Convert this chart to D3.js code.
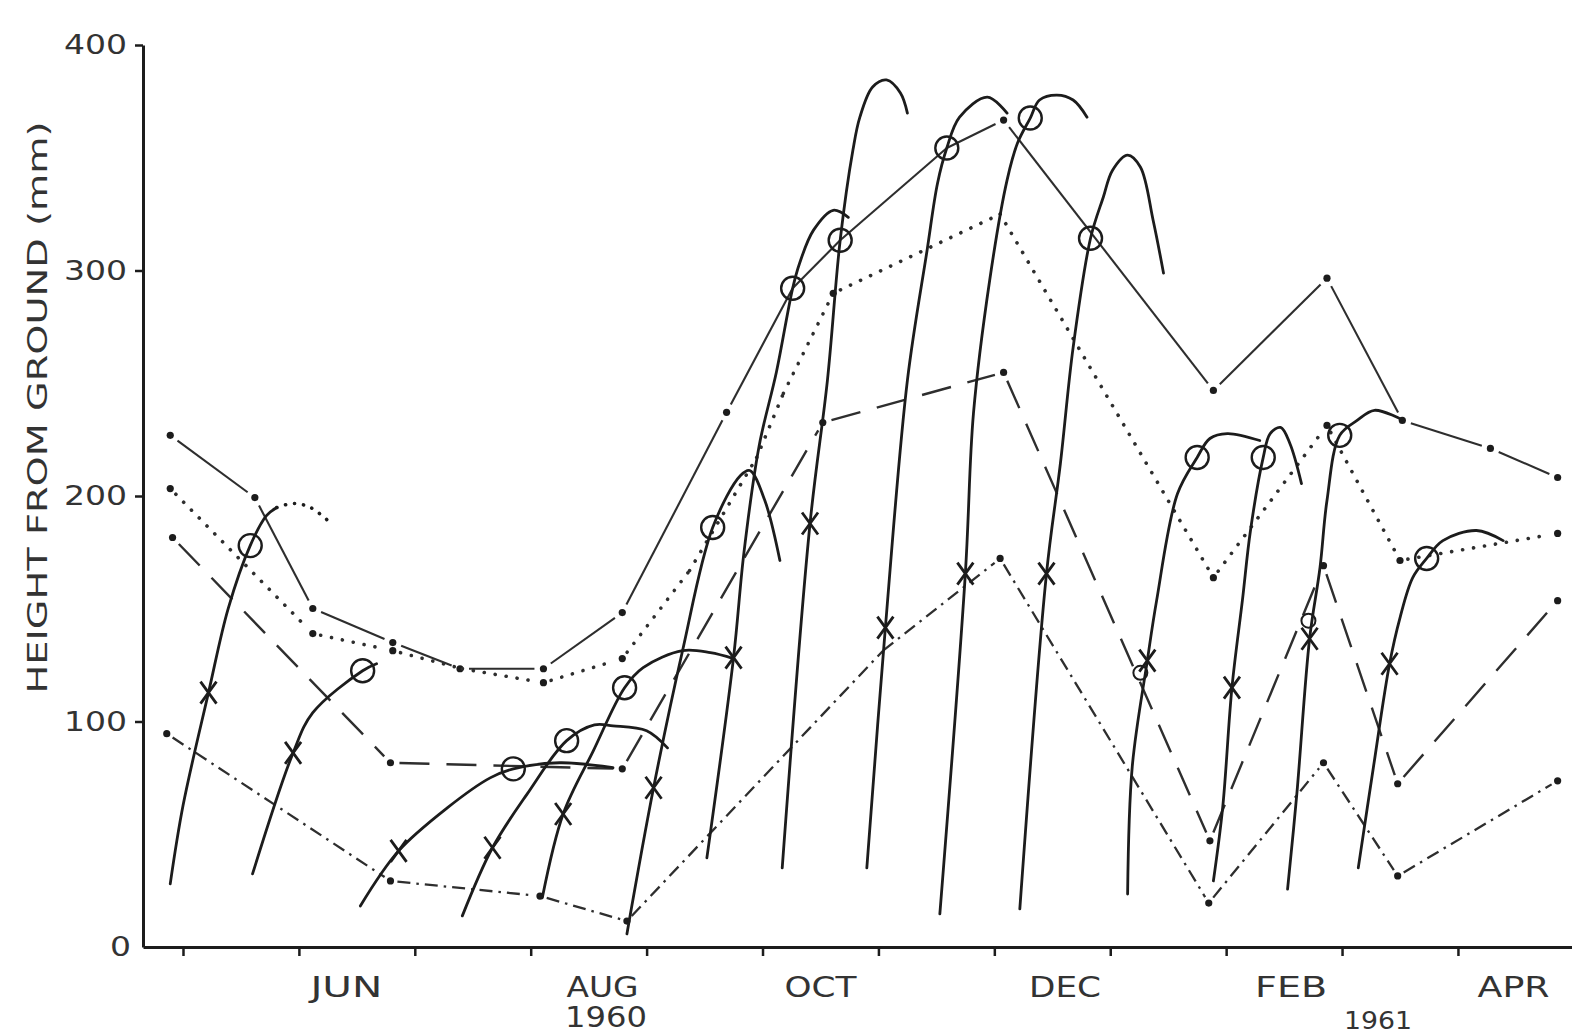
<!DOCTYPE html>
<html><head><meta charset="utf-8">
<script src="https://cdn.jsdelivr.net/npm/d3@7"></script>
<style>body{margin:0;background:#fff}svg{display:block}</style>
</head><body>
<svg id="c" width="1572" height="1034"></svg>
<script>
// ---------- DATA (x = month number counted from Jan 1960 = 1; value = height in mm) ----------
const yTicks = [0, 100, 200, 300, 400];
const monthTicks = [5, 6, 7, 8, 9, 10, 11, 12, 13, 14, 15, 16];
const monthLabels = ['JUN', 'AUG', 'OCT', 'DEC', 'FEB', 'APR'];
const monthLabelPos = [6.41, 8.62, 10.5, 12.61, 14.56, 16.48];
const yearLabels = ['1960', '1961'];
const yearLabelPos = [8.65, 15.31];
const yTitle = 'HEIGHT FROM GROUND (mm)';

// [month, mm, hasDot]
const seriesDashDot = [[4.89,226.9,1],[5.62,199.3,1],[6.12,150.1,1],[6.81,135,1],[7.39,123.4,1],[8.11,123.4,1],[8.79,148.3,1],[9.69,237.1,1],[10.26,292.1,0],[10.67,313.4,0],[11.59,354.3,0],[12.08,366.7,1],[13.89,246.8,1],[14.87,296.6,1],[15.52,233.5,1],[16.28,221.1,1],[16.86,208.2,1]];
const seriesDotted = [[4.89,203.3,1],[6.12,139,1],[6.81,131.4,1],[7.41,123.4,0],[8.11,117.2,1],[8.79,127.9,1],[9.37,166.9,0],[9.95,217.1,0],[10.18,245.5,0],[10.61,289.9,1],[12.05,325,0],[13.89,163.8,1],[14.87,231.3,1],[15.50,171.4,1],[16.86,183.4,1]];
const seriesLongDash = [[4.91,181.6,1],[6.79,81.7,1],[8.79,79,1],[10.52,232.6,1],[12.08,254.8,1],[13.86,47.1,1],[14.84,169.1,1],[15.48,72.4,1],[16.86,153.6,1]];
const seriesShortDash = [[4.86,94.6,1],[6.79,29.3,1],[8.08,22.6,1],[8.83,11.5,1],[11.04,131.4,0],[12.05,172.3,1],[13.85,19.5,1],[14.84,81.7,1],[15.48,31.5,1],[16.86,73.7,1]];

// individual growth curves [month, mm]
const growthCurves = [
 [[4.89,28],[5.00,62.6],[5.22,112.8],[5.39,150.1],[5.58,178],[5.72,191.3],[5.81,194.9]],
 [[5.60,32.4],[5.95,86.1],[6.12,103.9],[6.55,122.5],[6.67,125.6]],
 [[6.53,18.2],[6.86,42.6],[7.28,61.7],[7.65,75],[7.85,79],[8.25,81.7],[8.71,79.5]],
 [[7.41,13.8],[7.67,44],[7.97,67.9],[8.31,91.5],[8.55,98.5],[8.71,98.1],[9.00,95.9],[9.18,88.3]],
 [[8.10,21.8],[8.28,59],[8.54,87],[8.81,115],[8.97,123.9],[9.31,131.4],[9.55,130.5],[9.75,127.9]],
 [[8.83,5.8],[9.06,70.6],[9.31,131.4],[9.57,186],[9.81,209.1],[9.89,211.3],[10.02,198],[10.15,171.4]],
 [[9.52,39.5],[9.75,128.3],[9.84,175],[9.97,222],[10.12,255],[10.26,292.1],[10.32,303.2],[10.44,317.9],[10.61,326.7],[10.74,323.6]],
 [[10.17,35.1],[10.41,187.8],[10.56,251.3],[10.67,313.4],[10.78,353.4],[10.84,368],[10.95,381.4],[11.07,384.5],[11.19,378.7],[11.25,369.8]],
 [[10.90,35.1],[11.06,141.6],[11.25,251.3],[11.42,309],[11.51,338.7],[11.59,354.3],[11.70,368],[11.94,376.9],[12.11,369.8]],
 [[11.53,14.7],[11.75,165.6],[11.82,236.6],[11.96,295.7],[12.11,340.1],[12.20,356.5],[12.31,367.6],[12.39,375.6],[12.54,377.8],[12.68,375.6],[12.80,368]],
 [[12.22,16.9],[12.45,165.6],[12.57,214.4],[12.68,265.9],[12.83,314.3],[12.94,332.5],[13.02,344.5],[13.15,351.2],[13.26,345.9],[13.37,322.3],[13.46,298.8]],
 [[13.15,23.5],[13.19,80],[13.32,127],[13.40,153.6],[13.58,201],[13.75,217.1],[13.86,225.5],[14.01,227.7],[14.29,224.6]],
 [[13.89,29.3],[13.97,61.7],[14.05,115],[14.14,153.6],[14.21,184.7],[14.32,217.1],[14.38,227.7],[14.47,230.4],[14.55,223.3],[14.65,205.5]],
 [[14.53,25.7],[14.61,67.9],[14.72,136.7],[14.81,168.3],[14.87,198],[14.98,226.9],[15.13,233.5],[15.28,238],[15.53,233.5]],
 [[15.14,35.1],[15.27,79.5],[15.41,125.6],[15.50,146],[15.61,163.8],[15.73,172.3],[15.87,180.2],[16.16,184.7],[16.39,180.2]]
];
const growthTails = [[[5.81,194.9],[5.95,196.7],[6.10,194.9],[6.27,188.2]]];
const circleMarks = [[5.58,178],[6.55,122.5],[7.85,79],[8.31,91.5],[8.81,115],[9.57,186],[10.26,292.1],[10.67,313.4],[11.59,354.3],[12.31,367.6],[12.83,314.3],[13.75,217.1],[14.32,217.1],[14.98,226.9],[15.73,172.3]];
const smallCircleMarks = [[13.26,121.6],[14.71,144.7]];
const crossMarks = [[5.22,112.8],[5.95,86.1],[6.86,42.6],[7.67,44],[8.28,59],[9.06,70.6],[9.75,128.3],[10.41,187.8],[11.06,141.6],[11.75,165.6],[12.45,165.6],[13.32,127],[14.05,115],[14.72,136.7],[15.41,125.6]];

// ---------- DRAWING ----------
const ink = '#1c1c1c', soft = '#2e2e2e';
const svg = d3.select('#c');
svg.append('rect').attr('width',1572).attr('height',1034).attr('fill','#fff');
const x = d3.scaleLinear().domain([4.655, 16.984]).range([143, 1572]);
const y = d3.scaleLinear().domain([0, 400]).range([947, 45]);
const font = "'DejaVu Sans', 'Liberation Sans', sans-serif";

// axes
const gx = svg.append('g').attr('transform', `translate(0,${y(0)})`)
  .call(d3.axisBottom(x).tickValues(monthTicks).tickSize(9).tickSizeOuter(0).tickFormat(''));
gx.select('.domain').attr('stroke', ink).attr('stroke-width', 3);
gx.selectAll('.tick line').attr('stroke', ink).attr('stroke-width', 2.5);

const gy = svg.append('g').attr('transform', `translate(${x.range()[0]},0)`)
  .call(d3.axisLeft(y).tickValues(yTicks).tickSize(8).tickSizeOuter(0).tickPadding(7).tickFormat(d3.format('d')));
gy.select('.domain').attr('stroke', ink).attr('stroke-width', 3);
gy.selectAll('.tick line').attr('stroke', ink).attr('stroke-width', 2.5).filter(d => d === 0).remove();
gy.selectAll('.tick text')
  .attr('font-family', font).attr('font-size', 27).attr('fill', '#333')
  .attr('lengthAdjust', 'spacingAndGlyphs')
  .attr('textLength', d => String(d).length * 21)
  .attr('x', d => d === 0 ? -12 : -16);

// month and year labels
svg.append('g').selectAll('text').data(monthLabels).join('text')
  .attr('x', (d, i) => x(monthLabelPos[i])).attr('y', 997)
  .attr('text-anchor', 'middle').attr('font-family', font).attr('font-size', 28).attr('fill', '#333')
  .attr('lengthAdjust', 'spacingAndGlyphs').attr('textLength', 72).text(d => d);
svg.append('g').selectAll('text').data(yearLabels).join('text')
  .attr('x', (d, i) => x(yearLabelPos[i]))
  .attr('y', (d, i) => i === 0 ? 1027 : 1029)
  .attr('text-anchor', 'middle').attr('font-family', font).attr('font-size', (d, i) => i === 0 ? 28 : 25).attr('fill', '#333')
  .attr('lengthAdjust', 'spacingAndGlyphs').attr('textLength', (d, i) => i === 0 ? 82 : 68).text(d => d);

// y title
svg.append('text').attr('transform', `translate(47,${(120 + 695) / 2}) rotate(-90)`)
  .attr('text-anchor', 'middle').attr('font-family', font).attr('font-size', 26).attr('fill', '#333')
  .attr('lengthAdjust', 'spacingAndGlyphs').attr('textLength', 572).text(yTitle);

// reference series (segments broken around their dots)
function drawSeries(data, dash, gap, width, linecap) {
  const g = svg.append('g');
  const pts = data.map(d => [x(d[0]), y(d[1]), d[2]]);
  for (let i = 0; i < pts.length - 1; i++) {
    const [x1, y1, d1] = pts[i], [x2, y2, d2] = pts[i + 1];
    const L = Math.hypot(x2 - x1, y2 - y1), ux = (x2 - x1) / L, uy = (y2 - y1) / L;
    const g1 = d1 ? gap : 0, g2 = d2 ? gap : 0;
    g.append('line')
      .attr('x1', x1 + ux * g1).attr('y1', y1 + uy * g1)
      .attr('x2', x2 - ux * g2).attr('y2', y2 - uy * g2)
      .attr('stroke', soft).attr('stroke-width', width)
      .attr('stroke-linecap', linecap || 'butt')
      .attr('stroke-dasharray', dash);
  }
  g.selectAll('circle').data(data.filter(d => d[2])).join('circle')
    .attr('cx', d => x(d[0])).attr('cy', d => y(d[1])).attr('r', 3.6).attr('fill', ink);
}
drawSeries(seriesDashDot, null, 9, 2.1);
drawSeries(seriesDotted, '0.1,11', 8, 3.6, 'round');
drawSeries(seriesLongDash, '30,17', 9, 2.4);
drawSeries(seriesShortDash, '13,6,2.5,6', 7, 2.3);

// growth curves
const line = d3.line().x(d => x(d[0])).y(d => y(d[1])).curve(d3.curveCatmullRom.alpha(0.5));
svg.append('g').selectAll('path').data(growthCurves).join('path')
  .attr('d', line).attr('fill', 'none').attr('stroke', ink).attr('stroke-width', 2.8)
  .attr('stroke-linecap', 'round').attr('stroke-linejoin', 'round');
svg.append('g').selectAll('path').data(growthTails).join('path')
  .attr('d', line).attr('fill', 'none').attr('stroke', ink).attr('stroke-width', 3.6)
  .attr('stroke-linecap', 'round').attr('stroke-dasharray', '0.1,9');

// markers
svg.append('g').selectAll('circle').data(circleMarks).join('circle')
  .attr('cx', d => x(d[0])).attr('cy', d => y(d[1])).attr('r', 11.5)
  .attr('fill', 'none').attr('stroke', ink).attr('stroke-width', 2.4);
svg.append('g').selectAll('circle').data(smallCircleMarks).join('circle')
  .attr('cx', d => x(d[0])).attr('cy', d => y(d[1])).attr('r', 7)
  .attr('fill', 'none').attr('stroke', ink).attr('stroke-width', 2);
svg.append('g').selectAll('path').data(crossMarks).join('path')
  .attr('transform', d => `translate(${x(d[0])},${y(d[1])})`)
  .attr('d', 'M-8,-11L8,11M8,-11L-8,11')
  .attr('fill', 'none').attr('stroke', ink).attr('stroke-width', 2.8);
</script>
</body></html>
